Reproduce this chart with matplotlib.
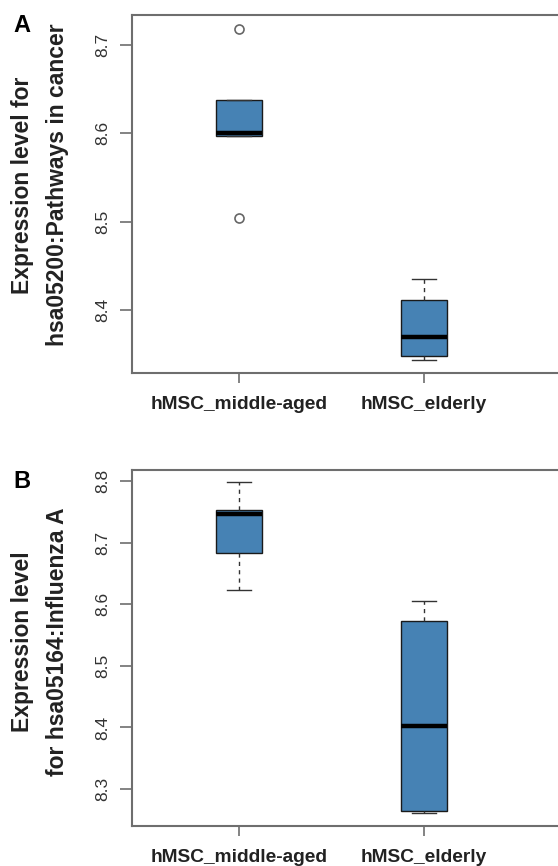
import matplotlib.pyplot as plt

plt.rcParams["font.family"] = ["Liberation Sans", "DejaVu Sans"]

groups = ["hMSC_middle-aged", "hMSC_elderly"]

# panel A: hsa05200 Pathways in cancer
a_middle = [8.504, 8.597, 8.600, 8.638, 8.718]
a_elderly = [8.343, 8.348, 8.370, 8.411, 8.435]
a_ticks = [8.4, 8.5, 8.6, 8.7]
a_ylim = (8.3287, 8.734)
a_label = ["Expression level for", "hsa05200:Pathways in cancer"]

# panel B: hsa05164 Influenza A
b_middle = [8.623, 8.684, 8.746, 8.753, 8.798]
b_elderly = [8.261, 8.264, 8.403, 8.573, 8.605]
b_ticks = [8.3, 8.4, 8.5, 8.6, 8.7, 8.8]
b_ylim = (8.240, 8.818)
b_label = ["Expression level", "for hsa05164:Influenza A"]

W, H = 558, 866
fill = "#4682b4"
frame = "#6e6e6e"


def panel(fig, rect, data, ticks, ylim, letter, label_lines, label_y):
    ax = fig.add_axes(rect)
    ax.boxplot(
        data,
        positions=[1, 2],
        widths=0.25,
        patch_artist=True,
        whis=1.5,
        boxprops=dict(facecolor=fill, edgecolor="#1a1a1a", linewidth=1.0),
        medianprops=dict(color="black", linewidth=3.2),
        whiskerprops=dict(color="#333333", linestyle=(0, (3, 3)), linewidth=1.0),
        capprops=dict(color="#333333", linewidth=1.0),
        flierprops=dict(marker="o", markersize=6.5, markerfacecolor="none",
                        markeredgecolor="#666666", markeredgewidth=1.2),
    )
    ax.set_xlim(0.4216, 2.762)
    ax.set_ylim(*ylim)
    ax.set_yticks(ticks)
    ax.set_yticklabels([f"{t:.1f}" for t in ticks], rotation=90, va="center",
                       fontsize=12.5, color="#333333")
    ax.set_xticks([1, 2])
    ax.set_xticklabels(groups, fontsize=13.8, fontweight="bold", color="#222222")
    ax.tick_params(axis="y", length=8.5, width=1.2, color=frame, pad=7)
    ax.tick_params(axis="x", length=7.5, width=1.2, color=frame, pad=9)
    for side in ["left", "bottom", "top"]:
        ax.spines[side].set_color(frame)
        ax.spines[side].set_linewidth(1.5)
    ax.spines["right"].set_visible(False)

    top = 1 - (rect[1] + rect[3])
    fig.text(22 / W, 1 - (top * H + 11) / H, letter, fontsize=17,
             fontweight="bold", ha="center", va="center")
    for x_px, line in zip([23, 58], label_lines):
        fig.text(x_px / W, 1 - label_y / H, line, rotation=90, fontsize=16.5,
                 fontweight="bold", ha="center", va="center", color="#222222")
    return ax


fig = plt.figure(figsize=(W / 100, H / 100), dpi=100)

left = 132 / W
width = 433 / W
panel(fig, [left, (H - 373) / H, width, 358 / H],
      [a_middle, a_elderly], a_ticks, a_ylim, "A", a_label, 185)
panel(fig, [left, (H - 826) / H, width, 356 / H],
      [b_middle, b_elderly], b_ticks, b_ylim, "B", b_label, 642)

fig.savefig("out.png", dpi=100, facecolor="white")
